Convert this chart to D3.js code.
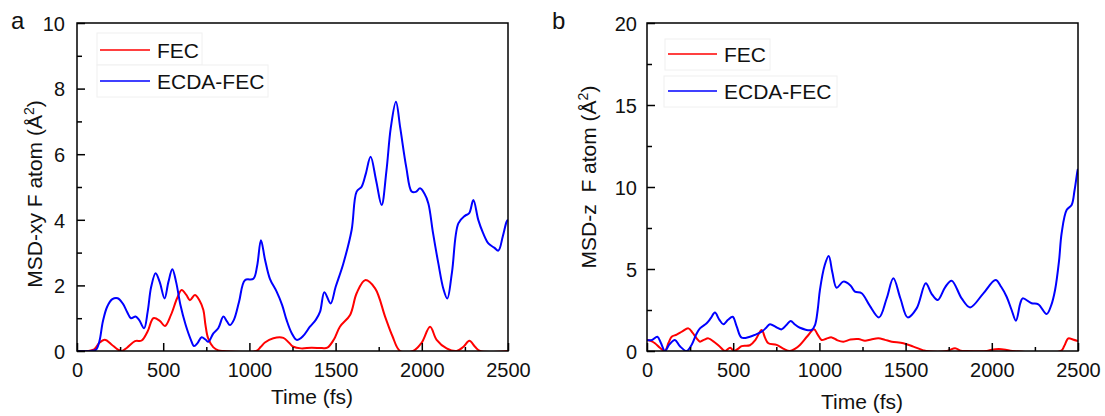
<!DOCTYPE html>
<html>
<head>
<meta charset="utf-8">
<script src="https://cdn.jsdelivr.net/npm/d3@7"></script>
<style>
  body { margin: 0; background: #fff; }
  svg { font-family: "Liberation Sans", Arial, sans-serif; }
  .axis path, .axis line { stroke: #000; stroke-width: 1.5; }
  .axis text { font-size: 20px; fill: #111; }
</style>
</head>
<body>
<div class="svg-container"></div>
<script>
// time (fs), MSD value pairs
const xyFEC = [[0,0],[60,0],[100,0.05],[130,0.25],[162,0.34],[200,0.2],[235,0.05],[259,0],[290,0.1],[336,0.3],[375,0.32],[410,0.6],[443,1.0],[480,0.92],[510,0.76],[545,1.1],[580,1.6],[607,1.86],[635,1.7],[655,1.55],[684,1.71],[710,1.55],[733,1.25],[745,0.8],[760,0.4],[790,0.12],[820,0.02],[850,0],[1040,0],[1065,0.12],[1090,0.26],[1139,0.39],[1197,0.4],[1230,0.25],[1255,0.13],[1300,0.08],[1360,0.1],[1420,0.09],[1452,0.1],[1490,0.35],[1525,0.74],[1584,1.1],[1622,1.76],[1671,2.16],[1729,1.91],[1787,1.05],[1830,0.45],[1874,0],[1950,0],[1999,0.25],[2048,0.74],[2086,0.34],[2144,0.08],[2202,0],[2240,0.12],[2276,0.31],[2310,0.12],[2338,0],[2500,0]];
const xyECDA = [[0,0],[80,0],[110,0.04],[130,0.3],[150,0.9],[175,1.35],[205,1.58],[236,1.61],[265,1.45],[290,1.2],[313,1.0],[340,1.05],[360,0.95],[389,0.69],[410,1.2],[430,1.95],[456,2.37],[480,2.1],[508,1.6],[530,2.1],[553,2.49],[575,2.1],[600,1.4],[630,0.8],[660,0.35],[679,0.15],[700,0.25],[723,0.42],[745,0.35],[762,0.28],[791,0.54],[820,0.7],[849,1.05],[870,0.9],[887,0.79],[910,0.95],[940,1.5],[974,2.16],[1023,2.2],[1045,2.6],[1067,3.38],[1090,2.8],[1119,2.2],[1158,1.81],[1190,1.4],[1216,0.94],[1245,0.55],[1274,0.34],[1310,0.45],[1351,0.74],[1385,0.95],[1410,1.2],[1435,1.79],[1471,1.45],[1500,1.95],[1545,2.67],[1593,3.69],[1622,4.86],[1651,5.01],[1675,5.4],[1703,5.92],[1735,5.2],[1767,4.45],[1795,5.5],[1820,6.8],[1850,7.6],[1875,6.8],[1910,5.6],[1941,4.86],[1965,4.85],[1990,4.96],[2015,4.8],[2038,4.5],[2065,3.6],[2096,2.67],[2125,1.9],[2148,1.6],[2175,2.4],[2212,3.89],[2250,4.12],[2275,4.2],[2299,4.6],[2328,3.99],[2355,3.6],[2386,3.28],[2420,3.15],[2444,3.06],[2470,3.5],[2492,3.94],[2500,4.0]];
const zFEC = [[0,0.67],[25,0.6],[46,0.47],[75,0.2],[104,0],[125,0.5],[143,0.87],[172,1.0],[205,1.2],[240,1.38],[265,1.1],[288,0.77],[307,0.57],[330,0.68],[356,0.77],[390,0.55],[423,0.26],[453,0],[482,0.2],[505,0],[530,0.15],[549,0.3],[597,0.35],[630,0.7],[665,1.28],[685,0.8],[704,0.47],[752,0.37],[790,0.15],[829,0],[860,0.15],[887,0.37],[930,0.9],[969,1.32],[990,1.0],[1013,0.67],[1040,0.75],[1071,0.83],[1105,0.65],[1139,0.57],[1180,0.7],[1226,0.73],[1264,0.63],[1300,0.7],[1342,0.77],[1380,0.68],[1420,0.57],[1487,0.47],[1545,0.27],[1603,0.04],[1620,0],[1740,0],[1787,0.17],[1820,0.02],[1850,0],[1970,0],[2000,0.08],[2040,0.12],[2080,0.08],[2120,0],[2400,0],[2420,0.3],[2444,0.77],[2470,0.7],[2500,0.6]];
const zECDA = [[0,0.67],[29,0.67],[60,0.87],[80,0.5],[104,0],[130,0.4],[162,0.67],[190,0.3],[230,0],[260,0.4],[285,1.0],[307,1.38],[346,1.69],[370,2.0],[394,2.34],[420,1.9],[443,1.63],[470,1.9],[497,2.09],[520,1.5],[549,0.81],[597,0.87],[630,1.0],[665,1.18],[690,1.4],[713,1.63],[750,1.45],[781,1.32],[810,1.6],[833,1.83],[860,1.6],[887,1.42],[955,1.28],[975,1.6],[990,2.5],[1003,3.72],[1030,5.2],[1054,5.79],[1075,4.8],[1100,3.86],[1139,4.23],[1180,4.0],[1206,3.62],[1245,3.52],[1290,2.8],[1346,2.05],[1390,3.2],[1429,4.43],[1470,3.2],[1512,2.05],[1564,2.6],[1617,4.13],[1650,3.5],[1686,3.11],[1730,3.9],[1767,4.29],[1825,3.21],[1874,2.66],[1950,3.5],[2022,4.33],[2055,3.9],[2086,3.31],[2115,2.5],[2140,1.85],[2165,2.9],[2179,3.21],[2231,2.91],[2270,2.85],[2318,2.26],[2345,2.8],[2367,3.72],[2390,5.5],[2405,7.18],[2434,8.6],[2463,8.9],[2480,9.8],[2498,11.04],[2500,11.1]];

const seriesNames = ["FEC", "ECDA-FEC"];
const seriesColors = ["#ff0000", "#0000ff"];
const xTicks = [0, 500, 1000, 1500, 2000, 2500];
const xyTicks = [0, 2, 4, 6, 8, 10];
const zTicks = [0, 5, 10, 15, 20];

const svg = d3.select(".svg-container").append("svg")
  .attr("width", 1105)
  .attr("height", 416);

// panel layout (pixels)
const panels = [
  { label: "a", left: 77, right: 508, top: 23, bottom: 351, yMax: 10, yTicks: xyTicks, yMinor: 1,
    data: [xyFEC, xyECDA], yTitle: "MSD-xy F atom (Å²)", yTitleX: 42, yTitleY: 194,
    xTitleX: 312, xTitleY: 404, labelX: 11, labelY: 29,
    legend: { x: 100, lineW: 50, rows: [50, 81], boxes: [[97, 33, 105, 32], [97, 65, 171, 32]] } },
  { label: "b", left: 647, right: 1078, top: 23, bottom: 351, yMax: 20, yTicks: zTicks, yMinor: 2.5,
    data: [zFEC, zECDA], yTitle: "MSD-z  F atom (Å²)", yTitleX: 596, yTitleY: 177,
    xTitleX: 862, xTitleY: 409, labelX: 552, labelY: 29,
    legend: { x: 668, lineW: 49, rows: [54, 91], boxes: [[665, 39, 105, 31], [664, 76, 173, 31]] } }
];

panels.forEach((p, pi) => {
  let x = d3.scaleLinear().domain([0, 2500]).range([p.left, p.right]);
  let y = d3.scaleLinear().domain([0, p.yMax]).range([p.bottom, p.top]);
  let g = svg.append("g");

  g.append("clipPath").attr("id", "clip" + pi)
    .append("rect")
    .attr("x", p.left).attr("y", p.top)
    .attr("width", p.right - p.left).attr("height", p.bottom - p.top);

  // legend boxes (faint)
  p.legend.boxes.forEach(b => {
    g.append("rect")
      .attr("x", b[0]).attr("y", b[1]).attr("width", b[2]).attr("height", b[3])
      .attr("fill", "#fff").attr("stroke", "#f0f0f0").attr("stroke-width", 1);
  });

  // lines
  let line = d3.line()
    .x(d => x(d[0]))
    .y(d => y(Math.max(0, d[1])))
    .curve(d3.curveCatmullRom.alpha(0.5));

  p.data.forEach((s, i) => {
    g.append("path")
      .datum(s)
      .attr("clip-path", "url(#clip" + pi + ")")
      .attr("fill", "none")
      .attr("stroke", seriesColors[i])
      .attr("stroke-width", 2)
      .attr("d", line);
  });

  // minor ticks
  let xMinor = d3.range(250, 2500, 500);
  g.append("g").attr("class", "axis")
    .attr("transform", "translate(0," + p.bottom + ")")
    .call(d3.axisBottom(x).tickValues(xMinor).tickSize(-4).tickFormat(""))
    .select(".domain").remove();
  let yMinor = d3.range(p.yMinor, p.yMax, p.yMinor * 2);
  g.append("g").attr("class", "axis")
    .attr("transform", "translate(" + p.left + ",0)")
    .call(d3.axisLeft(y).tickValues(yMinor).tickSize(-5).tickFormat(""))
    .select(".domain").remove();

  // major axes
  let xa = g.append("g").attr("class", "axis")
    .attr("transform", "translate(0," + p.bottom + ")")
    .call(d3.axisBottom(x).tickValues(xTicks).tickSize(-8).tickPadding(0).tickFormat(d3.format("d")));
  xa.select(".domain").remove();
  xa.selectAll("text").attr("y", 26).attr("dy", 0);

  let ya = g.append("g").attr("class", "axis")
    .attr("transform", "translate(" + p.left + ",0)")
    .call(d3.axisLeft(y).tickValues(p.yTicks).tickSize(-8).tickPadding(0));
  ya.select(".domain").remove();
  ya.selectAll("text").attr("x", pi === 0 ? -12 : -10).attr("dy", "0.36em");

  // frame
  g.append("rect")
    .attr("x", p.left).attr("y", p.top)
    .attr("width", p.right - p.left).attr("height", p.bottom - p.top)
    .attr("fill", "none").attr("stroke", "#000").attr("stroke-width", 1.5);

  // legend lines and text
  seriesNames.forEach((name, i) => {
    let ly = p.legend.rows[i];
    g.append("line")
      .attr("x1", p.legend.x).attr("x2", p.legend.x + p.legend.lineW)
      .attr("y1", ly).attr("y2", ly)
      .attr("stroke", seriesColors[i]).attr("stroke-width", 1.5);
    g.append("text")
      .attr("x", p.legend.x + p.legend.lineW + 7)
      .attr("y", ly)
      .attr("dy", "0.36em")
      .style("font-size", "21px")
      .style("fill", "#111")
      .text(name);
  });

  // axis titles
  g.append("text")
    .attr("x", p.xTitleX).attr("y", p.xTitleY)
    .style("text-anchor", "middle")
    .style("font-size", "21px").style("fill", "#111")
    .text("Time (fs)");

  let yt = g.append("text")
    .attr("transform", "translate(" + p.yTitleX + "," + p.yTitleY + ") rotate(-90)")
    .style("text-anchor", "middle")
    .style("font-size", "21px").style("fill", "#111")
    .style("white-space", "pre");
  let parts = p.yTitle.split("²");
  yt.append("tspan").text(parts[0]);
  yt.append("tspan").attr("dy", -8).style("font-size", "14px").text("2");
  yt.append("tspan").attr("dy", 8).text(parts[1]);

  // panel label
  g.append("text")
    .attr("x", p.labelX).attr("y", p.labelY)
    .style("font-size", "24px").style("fill", "#111")
    .text(p.label);
});
</script>
</body>
</html>
